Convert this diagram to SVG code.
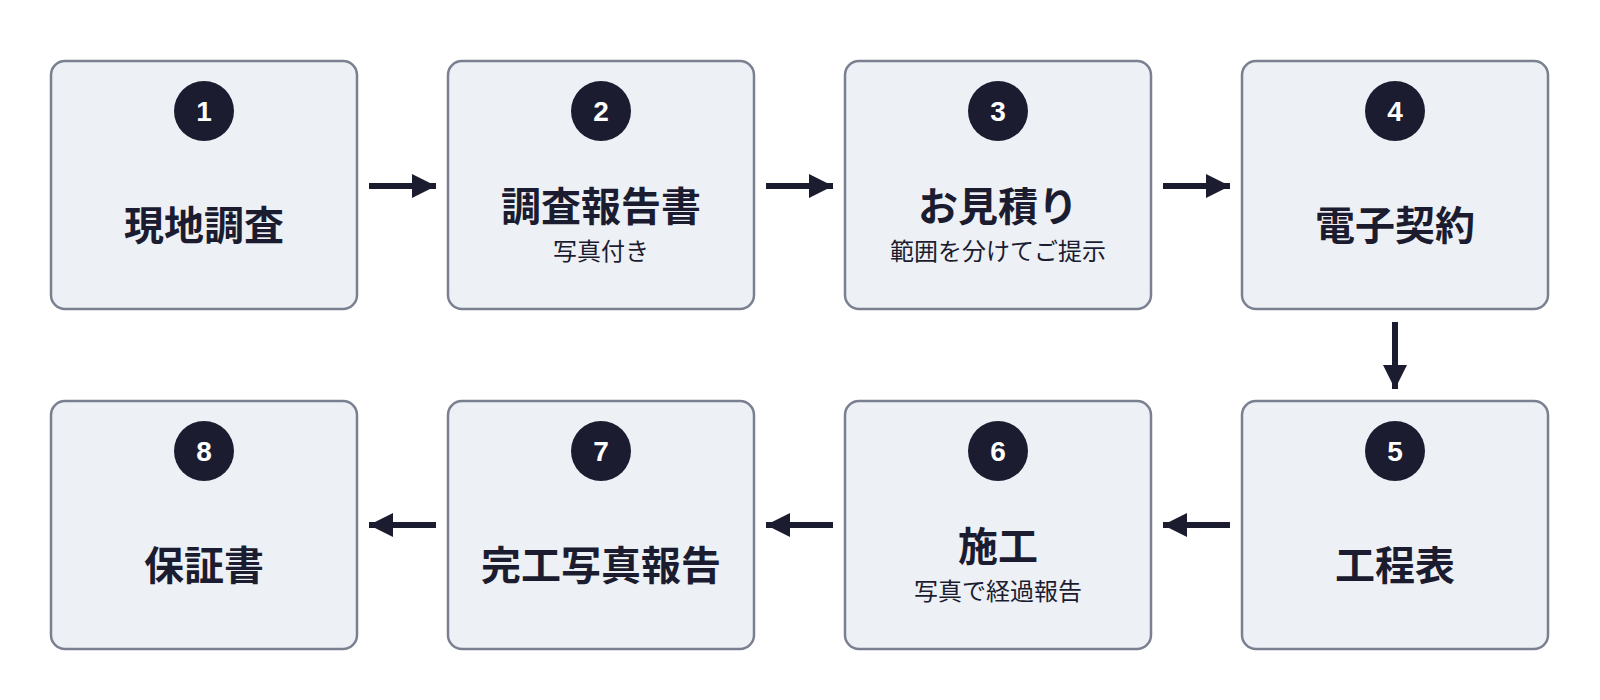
<svg xmlns="http://www.w3.org/2000/svg" width="1600" height="700" viewBox="0 0 1600 700">
<defs>
<style>
.box{fill:#edf0f5;stroke:#7b8091;stroke-width:2.5}
.num{fill:#1c1c30}
.nt{fill:#fff;font-family:"Liberation Sans","Noto Sans CJK JP",sans-serif;font-weight:bold;font-size:28px;text-anchor:middle}
.t{fill:#1c1c30;font-family:"Noto Sans CJK JP",sans-serif;font-weight:bold;font-size:40px;text-anchor:middle}
.s{fill:#1c1c30;font-family:"Noto Sans CJK JP",sans-serif;font-size:24px;text-anchor:middle}
.c{stroke:#1c1c30;stroke-width:6;fill:none}
</style>
<marker id="a" viewBox="0 0 10 10" refX="10" refY="5" markerWidth="4" markerHeight="4" markerUnits="strokeWidth" orient="auto"><path d="M0,0L10,5L0,10z" fill="#1c1c30"/></marker>
</defs>
<g id="n1"><rect class="box" x="51" y="61" width="306" height="248" rx="14"/><circle class="num" cx="204" cy="111" r="30"/><text class="nt" x="204" y="121">1</text><text class="t" x="204" y="240">現地調査</text></g>
<g id="n2"><rect class="box" x="448" y="61" width="306" height="248" rx="14"/><circle class="num" cx="601" cy="111" r="30"/><text class="nt" x="601" y="121">2</text><text class="t" x="601" y="221">調査報告書</text><text class="s" x="601" y="260">写真付き</text></g>
<g id="n3"><rect class="box" x="845" y="61" width="306" height="248" rx="14"/><circle class="num" cx="998" cy="111" r="30"/><text class="nt" x="998" y="121">3</text><text class="t" x="998" y="221">お見積り</text><text class="s" x="998" y="260">範囲を分けてご提示</text></g>
<g id="n4"><rect class="box" x="1242" y="61" width="306" height="248" rx="14"/><circle class="num" cx="1395" cy="111" r="30"/><text class="nt" x="1395" y="121">4</text><text class="t" x="1395" y="240">電子契約</text></g>
<g id="n5"><rect class="box" x="1242" y="401" width="306" height="248" rx="14"/><circle class="num" cx="1395" cy="451" r="30"/><text class="nt" x="1395" y="461">5</text><text class="t" x="1395" y="580">工程表</text></g>
<g id="n6"><rect class="box" x="845" y="401" width="306" height="248" rx="14"/><circle class="num" cx="998" cy="451" r="30"/><text class="nt" x="998" y="461">6</text><text class="t" x="998" y="561">施工</text><text class="s" x="998" y="600">写真で経過報告</text></g>
<g id="n7"><rect class="box" x="448" y="401" width="306" height="248" rx="14"/><circle class="num" cx="601" cy="451" r="30"/><text class="nt" x="601" y="461">7</text><text class="t" x="601" y="580">完工写真報告</text></g>
<g id="n8"><rect class="box" x="51" y="401" width="306" height="248" rx="14"/><circle class="num" cx="204" cy="451" r="30"/><text class="nt" x="204" y="461">8</text><text class="t" x="204" y="580">保証書</text></g>
<g id="connectors">
<path class="c" d="M369,186H436" marker-end="url(#a)"/>
<path class="c" d="M766,186H833" marker-end="url(#a)"/>
<path class="c" d="M1163,186H1230" marker-end="url(#a)"/>
<path class="c" d="M1395,322V389" marker-end="url(#a)"/>
<path class="c" d="M1230,525H1163" marker-end="url(#a)"/>
<path class="c" d="M833,525H766" marker-end="url(#a)"/>
<path class="c" d="M436,525H369" marker-end="url(#a)"/>
</g>
</svg>
